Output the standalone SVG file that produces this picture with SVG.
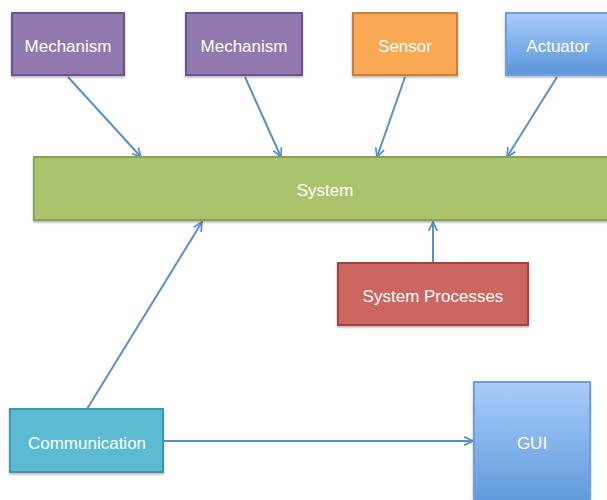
<svg xmlns="http://www.w3.org/2000/svg" width="607" height="500" viewBox="0 0 607 500">
  <defs>
    <linearGradient id="blueGrad" x1="0" y1="0" x2="0" y2="1">
      <stop offset="0" stop-color="#A9CCFB"/>
      <stop offset="1" stop-color="#5A96DA"/>
    </linearGradient>
    <linearGradient id="guiGrad" x1="0" y1="0" x2="0" y2="1">
      <stop offset="0" stop-color="#A9CCFB"/>
      <stop offset="1" stop-color="#5E99DB"/>
    </linearGradient>
    <filter id="shadow" x="-10%" y="-10%" width="120%" height="130%">
      <feDropShadow dx="0" dy="1.5" stdDeviation="1.2" flood-color="#000" flood-opacity="0.3"/>
    </filter>
    <marker id="arrow" viewBox="0 0 10 10" refX="9" refY="5" markerWidth="5.5" markerHeight="5.5" orient="auto" markerUnits="strokeWidth">
      <path d="M1,1 L9,5 L1,9" fill="none" stroke="#5B8FCB" stroke-width="1.6"/>
    </marker>
    <style>
      .box { stroke-width: 2; filter: url(#shadow); }
      .label { font-family: "Liberation Sans", Arial, sans-serif; font-size: 17px; fill: #FFFFFF; text-anchor: middle; }
      .conn { stroke: #5B8FCB; stroke-width: 2; fill: none; marker-end: url(#arrow); }
      .mech { fill: #9179B0; stroke: #6E5290; }
    </style>
  </defs>

  <!-- connectors -->
  <g id="connectors">
    <line class="conn" x1="68" y1="77" x2="141" y2="157"/>
    <line class="conn" x1="245" y1="77" x2="281" y2="157"/>
    <line class="conn" x1="405" y1="77" x2="377" y2="157"/>
    <line class="conn" x1="557" y1="77" x2="507" y2="157"/>
    <line class="conn" x1="433" y1="263" x2="433" y2="222"/>
    <line class="conn" x1="87" y1="409" x2="202" y2="222"/>
    <line class="conn" x1="164" y1="441" x2="473" y2="441"/>
  </g>

  <g id="mechanism-1">
    <rect class="box mech" x="12" y="13" width="112" height="62"/>
    <text class="label" x="68" y="52">Mechanism</text>
  </g>
  <g id="mechanism-2">
    <rect class="box mech" x="186" y="13" width="116" height="62"/>
    <text class="label" x="244" y="52">Mechanism</text>
  </g>
  <g id="sensor">
    <rect class="box" x="353" y="13" width="104" height="62" fill="#F9A853" stroke="#CF7F35"/>
    <text class="label" x="405" y="52">Sensor</text>
  </g>
  <g id="actuator">
    <rect class="box" x="506" y="13" width="106" height="62" fill="url(#blueGrad)" stroke="#6F9ED6"/>
    <text class="label" x="558" y="52">Actuator</text>
  </g>
  <g id="system">
    <rect class="box" x="34" y="157" width="580" height="63" fill="#AAC46D" stroke="#88A24E"/>
    <text class="label" x="325" y="196">System</text>
  </g>
  <g id="system-processes">
    <rect class="box" x="338" y="263" width="190" height="62" fill="#CD6661" stroke="#A8423E"/>
    <text class="label" x="433" y="302">System Processes</text>
  </g>
  <g id="communication">
    <rect class="box" x="10" y="409" width="153" height="63" fill="#5BBAD3" stroke="#3D98AF"/>
    <text class="label" x="87" y="449">Communication</text>
  </g>
  <g id="gui">
    <rect class="box" x="474" y="382" width="116" height="125" fill="url(#guiGrad)" stroke="#6F9ED6"/>
    <text class="label" x="532" y="449">GUI</text>
  </g>
</svg>
